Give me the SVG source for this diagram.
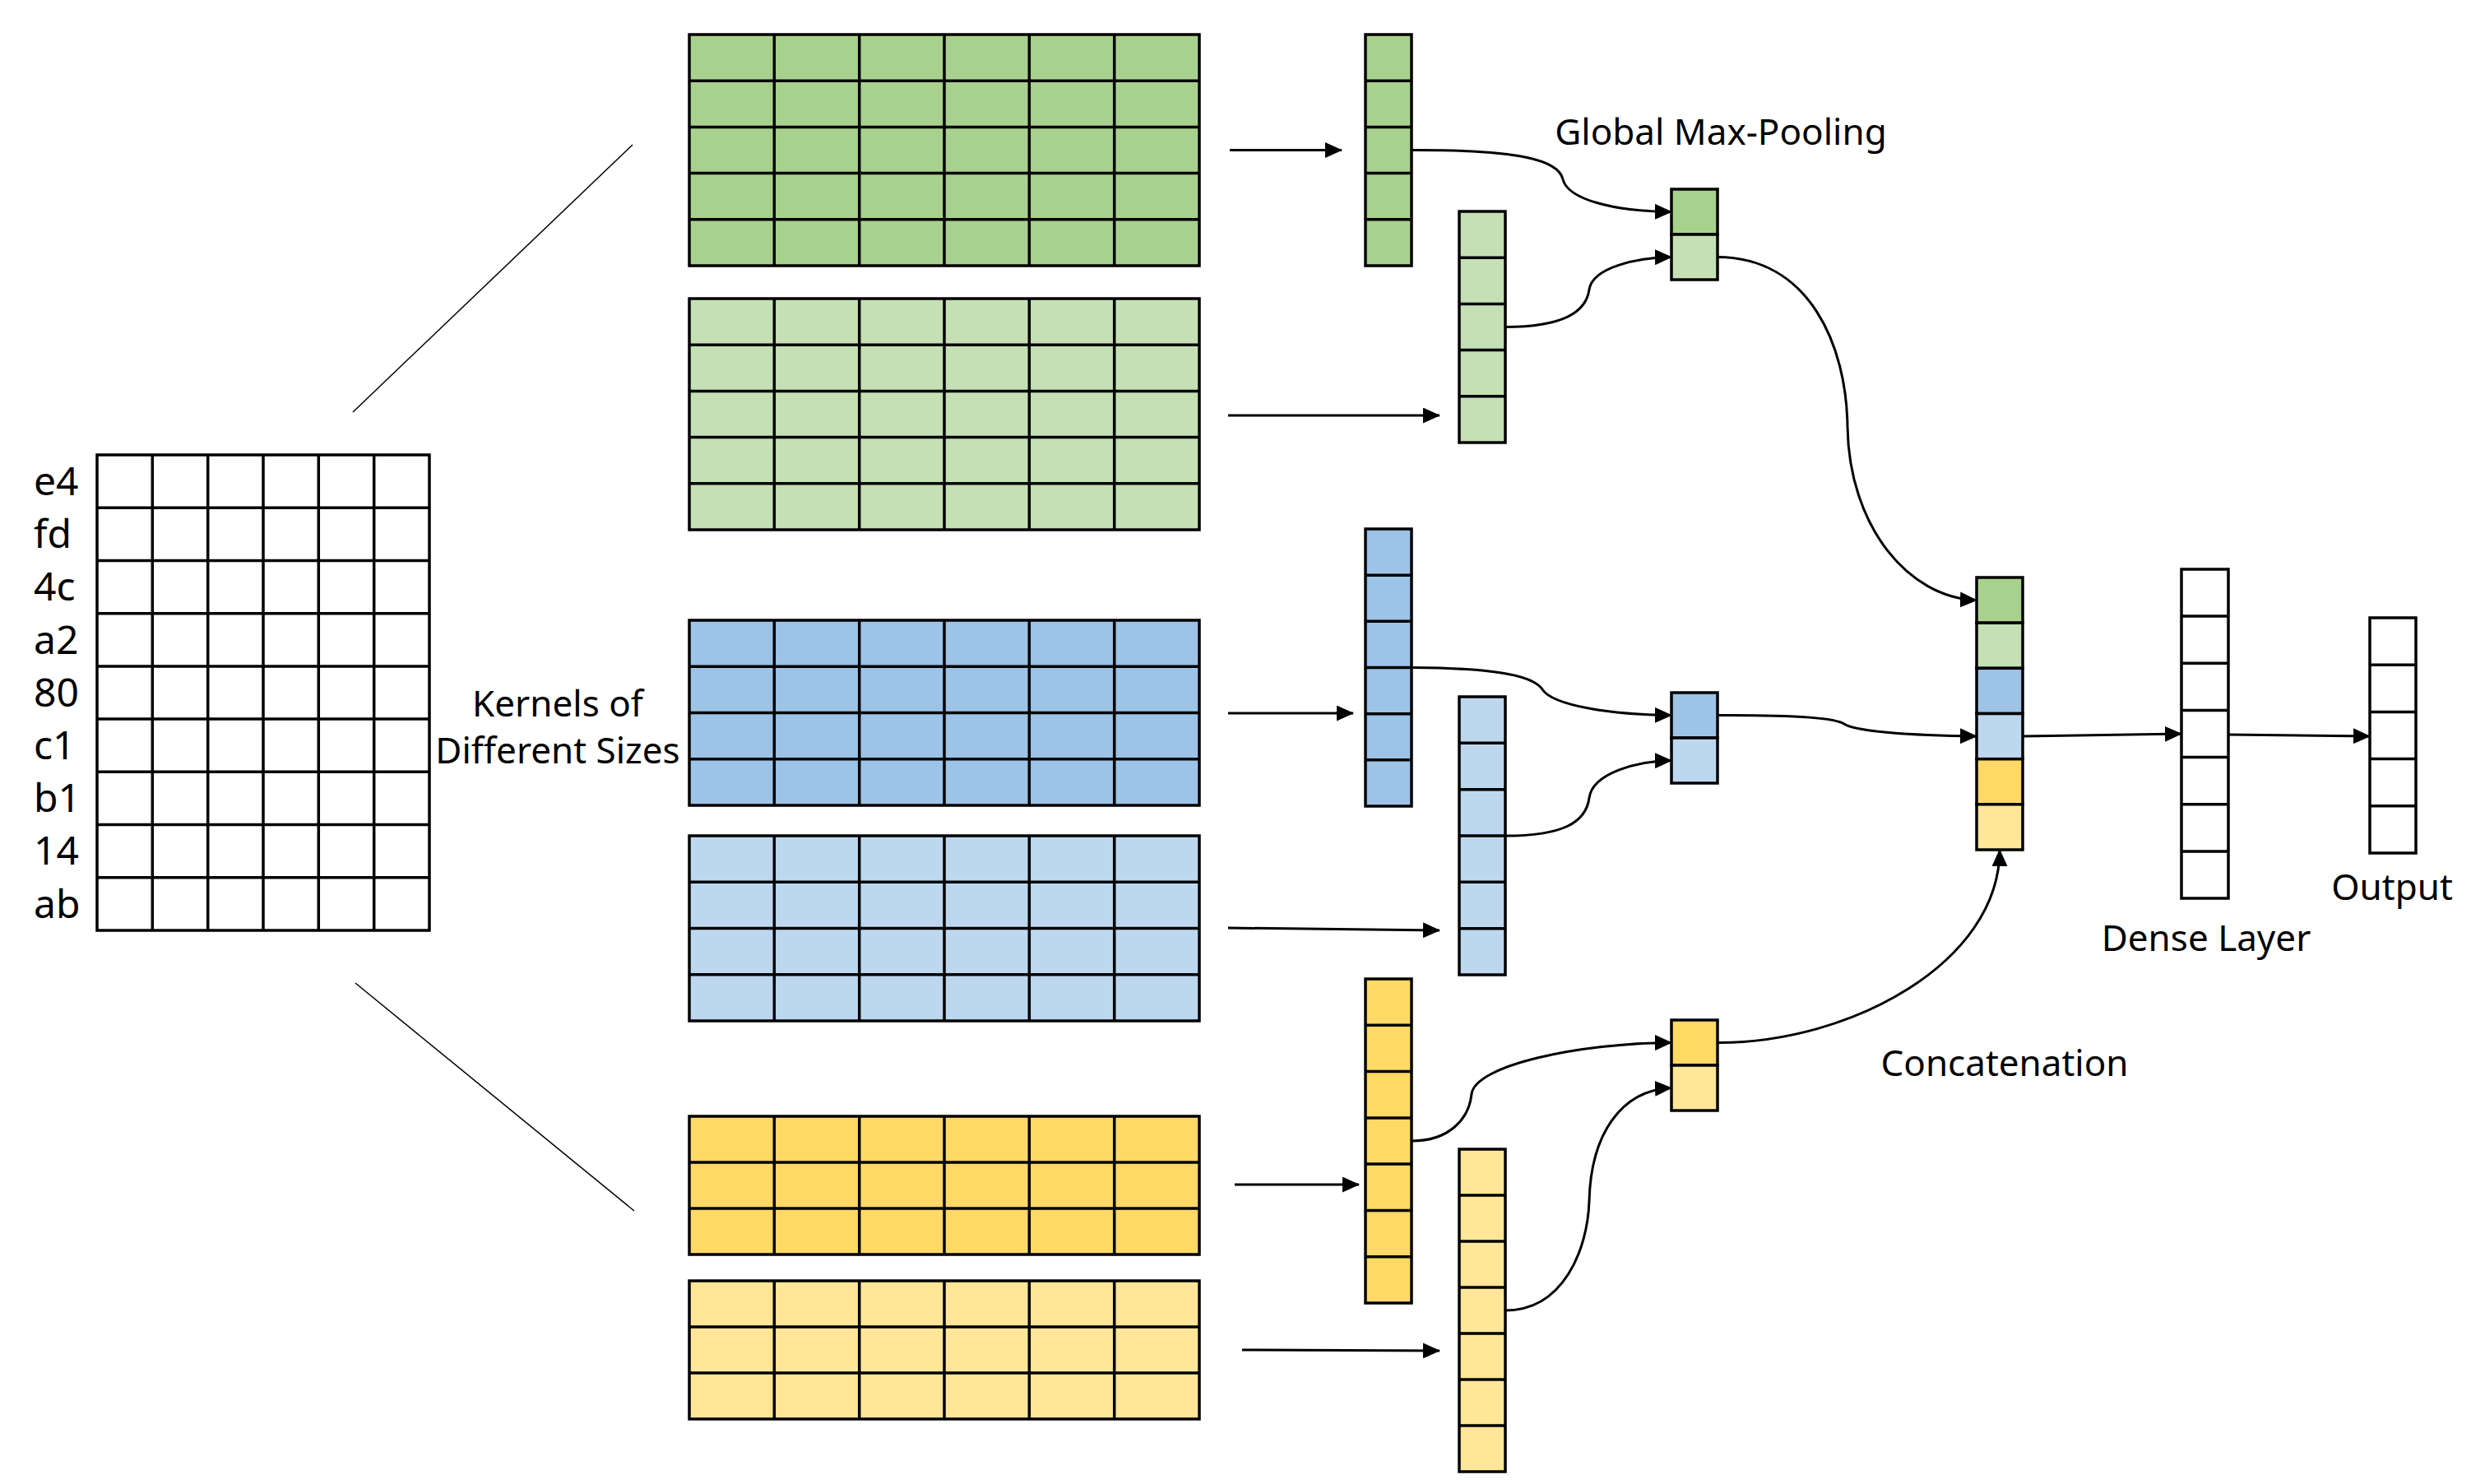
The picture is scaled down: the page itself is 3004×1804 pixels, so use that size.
<svg xmlns="http://www.w3.org/2000/svg" width="3004" height="1804" viewBox="0 0 3004 1804">
<style>
.cell{stroke:#000;stroke-width:3.5;stroke-linejoin:miter}
.grid{fill:none;stroke:#000;stroke-width:3.5}
.g1{fill:#A9D18E}.g2{fill:#C5E0B4}.b1{fill:#9DC3E6}.b2{fill:#BDD7EE}.y1{fill:#FFD966}.y2{fill:#FFE699}.w{fill:#FFFFFF}
.con{fill:none;stroke:#000;stroke-width:3}
.thin{fill:none;stroke:#000;stroke-width:1.5}
.lbl{font-family:"Noto Sans","Open Sans","DejaVu Sans",sans-serif;font-size:44px;fill:#000}
.row{font-family:"Noto Sans","Open Sans","DejaVu Sans",sans-serif;font-size:48px;fill:#000}
</style>
<defs>
<marker id="arr" markerUnits="userSpaceOnUse" markerWidth="21" markerHeight="19" viewBox="0 0 21 19" refX="20" refY="9.5" orient="auto">
<path d="M0,0 L21,9.5 L0,19 z" fill="#000"/>
</marker>
</defs>
<rect width="3004" height="1804" fill="#FFFFFF"/>

<g id="input-matrix">
<rect class="cell w" x="118" y="553" width="404" height="578"/>
<path class="grid" d="M185.3,553V1131M252.7,553V1131M320,553V1131M387.3,553V1131M454.7,553V1131M118,617.2H522M118,681.4H522M118,745.7H522M118,809.9H522M118,874.1H522M118,938.3H522M118,1002.6H522M118,1066.8H522"/>
<text class="row" x="41" y="602">e4</text>
<text class="row" x="41" y="666">fd</text>
<text class="row" x="41" y="730">4c</text>
<text class="row" x="41" y="795">a2</text>
<text class="row" x="41" y="859">80</text>
<text class="row" x="41" y="923">c1</text>
<text class="row" x="41" y="987">b1</text>
<text class="row" x="41" y="1051">14</text>
<text class="row" x="41" y="1116">ab</text>
</g>

<g id="kernel-label">
<text class="lbl" x="678" y="871" text-anchor="middle">Kernels of</text>
<text class="lbl" x="678" y="928" text-anchor="middle">Different Sizes</text>
</g>

<g id="fan-lines">
<line class="thin" x1="429" y1="501" x2="769" y2="176"/>
<line class="thin" x1="432" y1="1195" x2="771" y2="1472"/>
</g>

<g id="feature-map-green-1">
<rect class="cell g1" x="838" y="42" width="620" height="281"/>
<path class="grid" d="M941.3,42V323M1044.7,42V323M1148,42V323M1251.3,42V323M1354.7,42V323M838,98.2H1458M838,154.4H1458M838,210.6H1458M838,266.8H1458"/>
</g>
<g id="feature-map-green-2">
<rect class="cell g2" x="838" y="363" width="620" height="281"/>
<path class="grid" d="M941.3,363V644M1044.7,363V644M1148,363V644M1251.3,363V644M1354.7,363V644M838,419.2H1458M838,475.4H1458M838,531.6H1458M838,587.8H1458"/>
</g>
<g id="feature-map-blue-1">
<rect class="cell b1" x="838" y="754" width="620" height="225"/>
<path class="grid" d="M941.3,754V979M1044.7,754V979M1148,754V979M1251.3,754V979M1354.7,754V979M838,810.25H1458M838,866.5H1458M838,922.75H1458"/>
</g>
<g id="feature-map-blue-2">
<rect class="cell b2" x="838" y="1016" width="620" height="225"/>
<path class="grid" d="M941.3,1016V1241M1044.7,1016V1241M1148,1016V1241M1251.3,1016V1241M1354.7,1016V1241M838,1072.25H1458M838,1128.5H1458M838,1184.75H1458"/>
</g>
<g id="feature-map-yellow-1">
<rect class="cell y1" x="838" y="1357" width="620" height="168"/>
<path class="grid" d="M941.3,1357V1525M1044.7,1357V1525M1148,1357V1525M1251.3,1357V1525M1354.7,1357V1525M838,1413H1458M838,1469H1458"/>
</g>
<g id="feature-map-yellow-2">
<rect class="cell y2" x="838" y="1557" width="620" height="168"/>
<path class="grid" d="M941.3,1557V1725M1044.7,1557V1725M1148,1557V1725M1251.3,1557V1725M1354.7,1557V1725M838,1613H1458M838,1669H1458"/>
</g>

<g id="vector-green-1">
<rect class="cell g1" x="1660" y="42" width="56" height="281"/>
<path class="grid" d="M1660,98.2H1716M1660,154.4H1716M1660,210.6H1716M1660,266.8H1716"/>
</g>
<g id="vector-green-2">
<rect class="cell g2" x="1774" y="257" width="56" height="281"/>
<path class="grid" d="M1774,313.2H1830M1774,369.4H1830M1774,425.6H1830M1774,481.8H1830"/>
</g>
<g id="vector-blue-1">
<rect class="cell b1" x="1660" y="643" width="56" height="337"/>
<path class="grid" d="M1660,699.2H1716M1660,755.3H1716M1660,811.5H1716M1660,867.7H1716M1660,923.8H1716"/>
</g>
<g id="vector-blue-2">
<rect class="cell b2" x="1774" y="847" width="56" height="338"/>
<path class="grid" d="M1774,903.3H1830M1774,959.7H1830M1774,1016H1830M1774,1072.3H1830M1774,1128.7H1830"/>
</g>
<g id="vector-yellow-1">
<rect class="cell y1" x="1660" y="1190" width="56" height="394"/>
<path class="grid" d="M1660,1246.3H1716M1660,1302.6H1716M1660,1358.9H1716M1660,1415.1H1716M1660,1471.4H1716M1660,1527.7H1716"/>
</g>
<g id="vector-yellow-2">
<rect class="cell y2" x="1774" y="1397" width="56" height="392"/>
<path class="grid" d="M1774,1453H1830M1774,1509H1830M1774,1565H1830M1774,1621H1830M1774,1677H1830M1774,1733H1830"/>
</g>

<g id="pool-green">
<rect class="cell g1" x="2032" y="230" width="56" height="55"/>
<rect class="cell g2" x="2032" y="285" width="56" height="55"/>
</g>
<g id="pool-blue">
<rect class="cell b1" x="2032" y="842" width="56" height="55"/>
<rect class="cell b2" x="2032" y="897" width="56" height="55"/>
</g>
<g id="pool-yellow">
<rect class="cell y1" x="2032" y="1240" width="56" height="55"/>
<rect class="cell y2" x="2032" y="1295" width="56" height="55"/>
</g>

<g id="concat">
<rect class="cell g1" x="2403" y="702" width="56" height="55.2"/>
<rect class="cell g2" x="2403" y="757.2" width="56" height="55.2"/>
<rect class="cell b1" x="2403" y="812.3" width="56" height="55.2"/>
<rect class="cell b2" x="2403" y="867.5" width="56" height="55.2"/>
<rect class="cell y1" x="2403" y="922.7" width="56" height="55.2"/>
<rect class="cell y2" x="2403" y="977.8" width="56" height="55.2"/>
</g>

<g id="dense-layer">
<rect class="cell w" x="2652" y="692" width="57" height="400"/>
<path class="grid" d="M2652,749.1H2709M2652,806.3H2709M2652,863.4H2709M2652,920.6H2709M2652,977.7H2709M2652,1034.9H2709"/>
</g>
<g id="output-layer">
<rect class="cell w" x="2881" y="751" width="56" height="286"/>
<path class="grid" d="M2881,808.2H2937M2881,865.4H2937M2881,922.6H2937M2881,979.8H2937"/>
</g>

<g id="labels">
<text class="lbl" x="2092" y="176" text-anchor="middle">Global Max-Pooling</text>
<text class="lbl" x="2437" y="1308" text-anchor="middle">Concatenation</text>
<text class="lbl" x="2682" y="1156" text-anchor="middle">Dense Layer</text>
<text class="lbl" x="2908" y="1094" text-anchor="middle">Output</text>
</g>

<g id="connectors">
<path class="con" marker-end="url(#arr)" d="M1495,182.5H1631"/>
<path class="con" marker-end="url(#arr)" d="M1493,505H1750"/>
<path class="con" marker-end="url(#arr)" d="M1493,867H1645"/>
<path class="con" marker-end="url(#arr)" d="M1493,1128L1750,1131"/>
<path class="con" marker-end="url(#arr)" d="M1501,1440H1652"/>
<path class="con" marker-end="url(#arr)" d="M1510,1641L1750,1642"/>
<path class="con" marker-end="url(#arr)" d="M1716,182.5C1850,182 1895,195 1900,218C1906,242 1960,257 2032,257.5"/>
<path class="con" marker-end="url(#arr)" d="M1830,397.5C1900,397 1928,380 1932,352C1936,325 1990,313 2032,312.5"/>
<path class="con" marker-end="url(#arr)" d="M2088,312.5C2200,313 2245,420 2246,519C2248,640 2320,727 2403,729.6"/>
<path class="con" marker-end="url(#arr)" d="M1716,811.5C1800,812 1862,818 1875,838C1888,858 1960,869 2032,869.5"/>
<path class="con" marker-end="url(#arr)" d="M1830,1016C1900,1016 1928,1000 1932,970C1936,940 1990,925 2032,924.5"/>
<path class="con" marker-end="url(#arr)" d="M2088,869.5C2180,869 2230,872 2242,880C2255,889 2320,894 2403,895"/>
<path class="con" marker-end="url(#arr)" d="M1716,1387C1762,1387 1786,1360 1789,1330C1793,1295 1920,1268 2032,1267.5"/>
<path class="con" marker-end="url(#arr)" d="M1830,1593C1900,1593 1930,1520 1932,1460C1934,1380 1970,1325 2032,1322.5"/>
<path class="con" marker-end="url(#arr)" d="M2088,1267.5C2250,1268 2431,1170 2431,1033"/>
<path class="con" marker-end="url(#arr)" d="M2459,895L2652,892"/>
<path class="con" marker-end="url(#arr)" d="M2709,893L2881,895"/>
</g>
</svg>
